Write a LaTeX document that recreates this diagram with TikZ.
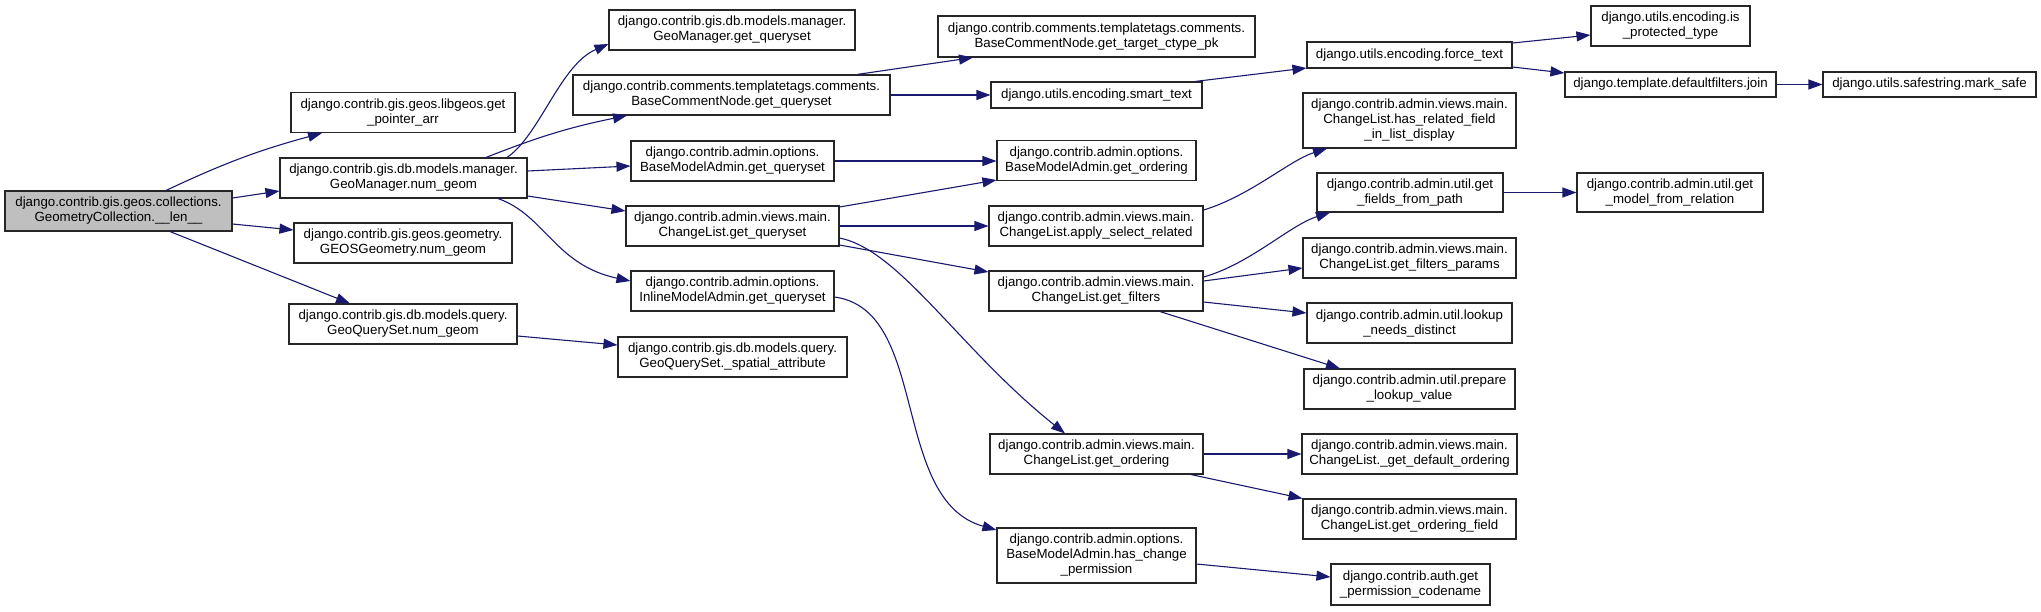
\documentclass[tikz,border=0pt]{standalone}
\usepackage{fontspec}
\setmainfont{Liberation Sans}
\usetikzlibrary{arrows.meta}
\definecolor{midnightblue}{HTML}{191970}
\definecolor{rootgray}{HTML}{BFBFBF}
\begin{document}
\begin{tikzpicture}[x=1pt,y=-1pt,
  fnbox/.style={draw=black!85,line width=1.1pt,fill=white,align=center,inner sep=1pt,
    minimum height=40pt,font=\fontsize{13.3}{15}\selectfont},
  callarrow/.style={draw=midnightblue,line width=1.1pt,-{Triangle[length=14pt,width=10pt]},fill=none}]
\useasboundingbox (0,0) rectangle (2041,611);
% column 1
\node[fnbox,fill=rootgray,minimum width=227pt] (len) at (118.5,211) {django.contrib.gis.geos.collections.\\GeometryCollection.\_\_len\_\_};
% column 2
\node[fnbox,minimum width=224pt] (libgeos) at (403,112.5) {django.contrib.gis.geos.libgeos.get\\\_pointer\_arr};
\node[fnbox,minimum width=247pt] (nummgr) at (403.5,178) {django.contrib.gis.db.models.manager.\\GeoManager.num\_geom};
\node[fnbox,minimum width=218pt] (numgeos) at (403,243) {django.contrib.gis.geos.geometry.\\GEOSGeometry.num\_geom};
\node[fnbox,minimum width=228pt] (numqs) at (403,324) {django.contrib.gis.db.models.query.\\GeoQuerySet.num\_geom};
% column 3
\node[fnbox,minimum width=246pt] (getqsmgr) at (732,30) {django.contrib.gis.db.models.manager.\\GeoManager.get\_queryset};
\node[fnbox,minimum width=317pt] (getqscomm) at (731.5,95) {django.contrib.comments.templatetags.comments.\\BaseCommentNode.get\_queryset};
\node[fnbox,minimum width=203pt] (getqsbase) at (732.5,161) {django.contrib.admin.options.\\BaseModelAdmin.get\_queryset};
\node[fnbox,minimum width=213pt] (getqscl) at (732.5,226) {django.contrib.admin.views.main.\\ChangeList.get\_queryset};
\node[fnbox,minimum width=203pt] (getqsinline) at (732.5,291) {django.contrib.admin.options.\\InlineModelAdmin.get\_queryset};
\node[fnbox,minimum width=229pt] (spatial) at (732.5,357) {django.contrib.gis.db.models.query.\\GeoQuerySet.\_spatial\_attribute};
% column 4
\node[fnbox,minimum width=317pt,minimum height=41pt] (ctype) at (1096.5,36.5) {django.contrib.comments.templatetags.comments.\\BaseCommentNode.get\_target\_ctype\_pk};
\node[fnbox,minimum width=211pt,minimum height=26pt] (smarttext) at (1096.5,95) {django.utils.encoding.smart\_text};
\node[fnbox,minimum width=199pt] (orderbase) at (1096.5,160.5) {django.contrib.admin.options.\\BaseModelAdmin.get\_ordering};
\node[fnbox,minimum width=214pt] (applysel) at (1096,226) {django.contrib.admin.views.main.\\ChangeList.apply\_select\_related};
\node[fnbox,minimum width=214pt] (filters) at (1096,291) {django.contrib.admin.views.main.\\ChangeList.get\_filters};
\node[fnbox,minimum width=213pt] (orderingcl) at (1096.5,454) {django.contrib.admin.views.main.\\ChangeList.get\_ordering};
\node[fnbox,minimum width=199pt,minimum height=55pt] (haschange) at (1096.5,555.5) {django.contrib.admin.options.\\BaseModelAdmin.has\_change\\\_permission};
% column 5
\node[fnbox,minimum width=205pt,minimum height=26pt] (forcetext) at (1409.5,55) {django.utils.encoding.force\_text};
\node[fnbox,minimum width=213pt,minimum height=55pt] (hasrelated) at (1409.5,120.5) {django.contrib.admin.views.main.\\ChangeList.has\_related\_field\\\_in\_list\_display};
\node[fnbox,minimum width=186pt,minimum height=39pt] (fieldspath) at (1410,192.5) {django.contrib.admin.util.get\\\_fields\_from\_path};
\node[fnbox,minimum width=213pt] (filtersparams) at (1409.5,258) {django.contrib.admin.views.main.\\ChangeList.get\_filters\_params};
\node[fnbox,minimum width=205pt] (lookupdistinct) at (1409.5,323) {django.contrib.admin.util.lookup\\\_needs\_distinct};
\node[fnbox,minimum width=211pt] (preparelookup) at (1409.5,389) {django.contrib.admin.util.prepare\\\_lookup\_value};
\node[fnbox,minimum width=215pt] (defaultordering) at (1409.5,454) {django.contrib.admin.views.main.\\ChangeList.\_get\_default\_ordering};
\node[fnbox,minimum width=213pt] (orderingfield) at (1409.5,519) {django.contrib.admin.views.main.\\ChangeList.get\_ordering\_field};
\node[fnbox,minimum width=159pt,minimum height=41pt] (permcodename) at (1410.5,584.5) {django.contrib.auth.get\\\_permission\_codename};
% columns 6 and 7
\node[fnbox,minimum width=159pt] (protected) at (1670.5,26) {django.utils.encoding.is\\\_protected\_type};
\node[fnbox,minimum width=211pt,minimum height=25pt] (join) at (1670.5,84.5) {django.template.defaultfilters.join};
\node[fnbox,minimum width=186pt,minimum height=39pt] (modelrel) at (1670,192.5) {django.contrib.admin.util.get\\\_model\_from\_relation};
\node[fnbox,minimum width=213pt,minimum height=25pt] (marksafe) at (1929.5,84.5) {django.utils.safestring.mark\_safe};
% calls
\draw[callarrow] (len.north -| 166,0) to[bend left=5] (libgeos.south -| 322,0);
\draw[callarrow] (len.east |- 0,198) -- (nummgr.west |- 0,191);
\draw[callarrow] (len.east |- 0,224) -- (numgeos.west |- 0,230);
\draw[callarrow] (len.south -| 170,0) -- (numqs.north -| 350,0);
\draw[callarrow] (nummgr.north -| 507,0) .. controls (540,135) and (560,65) .. (getqsmgr.west |- 0,44);
\draw[callarrow] (nummgr.north -| 486,0) to[bend left=5] (getqscomm.south -| 627,0);
\draw[callarrow] (nummgr.east |- 0,171) -- (getqsbase.west |- 0,166);
\draw[callarrow] (nummgr.east |- 0,196) -- (getqscl.west |- 0,211);
\draw[callarrow] (nummgr.south -| 498,0) .. controls (545,215) and (555,265) .. (getqsinline.west |- 0,281);
\draw[callarrow] (numqs.east |- 0,336) -- (spatial.west |- 0,345);
\draw[callarrow] (getqscomm.north -| 857,0) -- (ctype.south -| 973,0);
\draw[callarrow] (getqscomm.east) -- (smarttext.west);
\draw[callarrow] (getqsbase.east) -- (orderbase.west |- getqsbase.east);
\draw[callarrow] (getqscl.east |- 0,207) -- (orderbase.west |- 0,180);
\draw[callarrow] (getqscl.east) -- (applysel.west);
\draw[callarrow] (getqscl.east |- 0,245) -- (filters.west |- 0,272);
\draw[callarrow] (getqscl.east |- 0,238) .. controls (900,250) and (960,350) .. (orderingcl.north -| 1065,0);
\draw[callarrow] (getqsinline.east |- 0,297) .. controls (930,310) and (890,500) .. (haschange.west |- 0,530);
\draw[callarrow] (smarttext.north -| 1195,0) -- (forcetext.west |- 0,68);
\draw[callarrow] (applysel.east |- 0,210) .. controls (1250,196) and (1290,160) .. (hasrelated.south -| 1327,0);
\draw[callarrow] (filters.east |- 0,277) .. controls (1250,264) and (1290,225) .. (fieldspath.south -| 1330,0);
\draw[callarrow] (filters.east |- 0,281) -- (filtersparams.west |- 0,268);
\draw[callarrow] (filters.east |- 0,302) -- (lookupdistinct.west |- 0,313);
\draw[callarrow] (filters.south -| 1160,0) -- (preparelookup.north -| 1340,0);
\draw[callarrow] (forcetext.east |- 0,43) -- (protected.west |- 0,35);
\draw[callarrow] (forcetext.east |- 0,67) -- (join.west |- 0,73);
\draw[callarrow] (join) -- (marksafe);
\draw[callarrow] (fieldspath) -- (modelrel);
\draw[callarrow] (orderingcl) -- (defaultordering);
\draw[callarrow] (orderingcl.south -| 1191,0) -- (orderingfield.north west);
\draw[callarrow] (haschange.east |- 0,564) -- (permcodename.west |- 0,577);
\end{tikzpicture}
\end{document}
